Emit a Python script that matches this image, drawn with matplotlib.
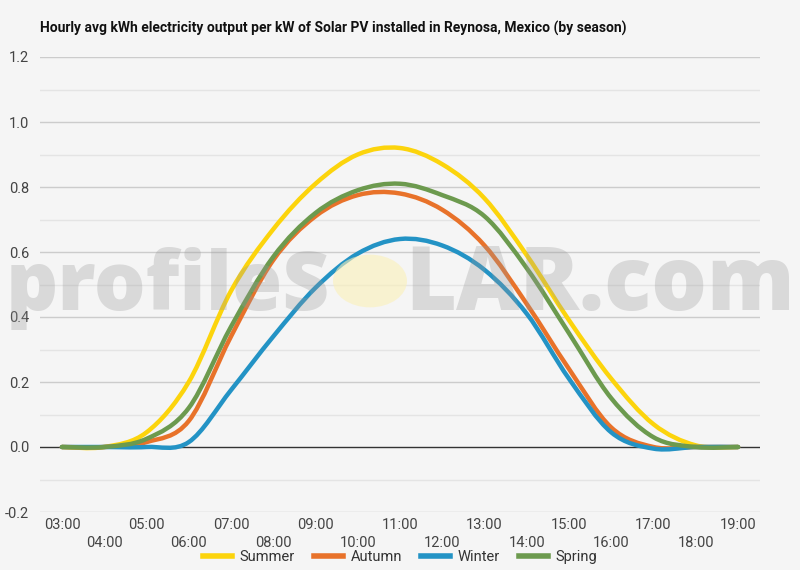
import numpy as np
import matplotlib
matplotlib.use('Agg')
from matplotlib import pyplot as plt
from matplotlib.path import Path
from matplotlib.patches import PathPatch, Circle
from matplotlib.lines import Line2D

hours = list(range(3, 20))
hour_labels = ['%02d:00' % h for h in hours]

summer = [0.0, 0.0, 0.045, 0.20, 0.48, 0.67, 0.81, 0.90, 0.92, 0.87, 0.765, 0.59, 0.39, 0.21, 0.07, 0.005, 0.0]
autumn = [0.0, 0.0, 0.015, 0.08, 0.34, 0.575, 0.71, 0.775, 0.78, 0.73, 0.62, 0.44, 0.24, 0.06, 0.0, 0.0, 0.0]
winter = [0.0, 0.0, 0.0, 0.015, 0.175, 0.34, 0.49, 0.595, 0.64, 0.62, 0.545, 0.41, 0.21, 0.045, -0.005, 0.0, 0.0]
spring = [0.0, 0.0, 0.025, 0.12, 0.37, 0.585, 0.72, 0.79, 0.81, 0.775, 0.71, 0.55, 0.35, 0.15, 0.03, 0.0, 0.0]

series = [('Summer', summer, '#fcd40c'),
          ('Autumn', autumn, '#e8722a'),
          ('Winter', winter, '#2393c5'),
          ('Spring', spring, '#6c9a4e')]


def smooth_path(x, y):
    # catmull-rom style bezier through the points
    pts = np.column_stack([np.asarray(x, float), np.asarray(y, float)])
    verts = [pts[0]]
    codes = [Path.MOVETO]
    n = len(pts)
    for i in range(n - 1):
        p0 = pts[max(i - 1, 0)]
        p1 = pts[i]
        p2 = pts[i + 1]
        p3 = pts[min(i + 2, n - 1)]
        verts += [p1 + (p2 - p0) / 6.0, p2 - (p3 - p1) / 6.0, p2]
        codes += [Path.CURVE4] * 3
    return Path(verts, codes)


bg = '#f5f5f5'
plt.rcParams['font.family'] = ['Roboto', 'DejaVu Sans']

fig = plt.figure(figsize=(8, 5.7), dpi=100, facecolor=bg)
ax = fig.add_axes([0.05, 1 - 512 / 570., 0.90, (512 - 57) / 570.])
ax.set_facecolor(bg)

ax.set_xlim(2.48, 19.52)
ax.set_ylim(-0.2, 1.2)

# grid
for v in np.arange(-0.1, 1.2, 0.2):
    ax.axhline(v, color='#e4e4e4', lw=1, zorder=0)
for v in np.arange(-0.2, 1.21, 0.2):
    if abs(v) > 1e-6:
        ax.axhline(v, color='#cccccc', lw=1, zorder=0)
ax.axhline(0, color='#333333', lw=1, zorder=1)

for name, vals, col in series:
    ax.add_patch(PathPatch(smooth_path(hours, vals), facecolor='none',
                           edgecolor=col, lw=3.2, capstyle='round', zorder=3))

for s in ax.spines.values():
    s.set_visible(False)

ax.set_yticks(np.arange(-0.2, 1.21, 0.2))
ax.set_yticklabels(['%.1f' % v for v in np.arange(-0.2, 1.21, 0.2)])
ax.tick_params(axis='y', length=0, pad=8, labelsize=10.5, labelcolor='#444444')

ax.set_xticks(hours[::2])
ax.set_xticklabels(hour_labels[::2])
ax.set_xticks(hours[1::2], minor=True)
ax.set_xticklabels(hour_labels[1::2], minor=True)
ax.tick_params(axis='x', which='major', length=0, pad=4, labelsize=10.5, labelcolor='#444444')
ax.tick_params(axis='x', which='minor', length=0, pad=17, labelsize=10.5, labelcolor='#444444')

fig.text(0.05, 1 - 28 / 570., 'Hourly avg kWh electricity output per kW of Solar PV installed in Reynosa, Mexico (by season)',
         fontsize=10, fontweight='bold', color='#111111', va='center', ha='left')

handles = [Line2D([], [], color=c, lw=4) for _, _, c in series]
fig.legend(handles, [n for n, _, _ in series], loc='center', bbox_to_anchor=(0.5, 1 - 557 / 570.),
           ncol=4, frameon=False, fontsize=10.5, handlelength=2.0, columnspacing=1.3,
           handletextpad=0.5, labelcolor='#333333')

# watermark, sized to fit the reference width
renderer = fig.canvas.get_renderer()
wm_left = fig.text(330 / 800., 1 - 310 / 570., 'profileS', fontsize=60, fontweight='heavy', family='Open Sans',
                   color='#999999', alpha=0.3, ha='right', va='baseline', zorder=10)
w = wm_left.get_window_extent(renderer).width
wm_left.set_fontsize(60 * 325 / w)
wm_right = fig.text(405 / 800., 1 - 310 / 570., 'LAR.com', fontsize=60, fontweight='heavy', family='Open Sans',
                    color='#999999', alpha=0.3, ha='left', va='baseline', zorder=10)
w = wm_right.get_window_extent(renderer).width
wm_right.set_fontsize(60 * 390 / w)
fig.patches.append(Circle((370 / 800., 1 - 281 / 570.), 37 / 800., transform=fig.transFigure,
                          facecolor='#fbf0b8', alpha=0.6, edgecolor='none', zorder=10))

fig.savefig('out.png', dpi=100, facecolor=bg)
